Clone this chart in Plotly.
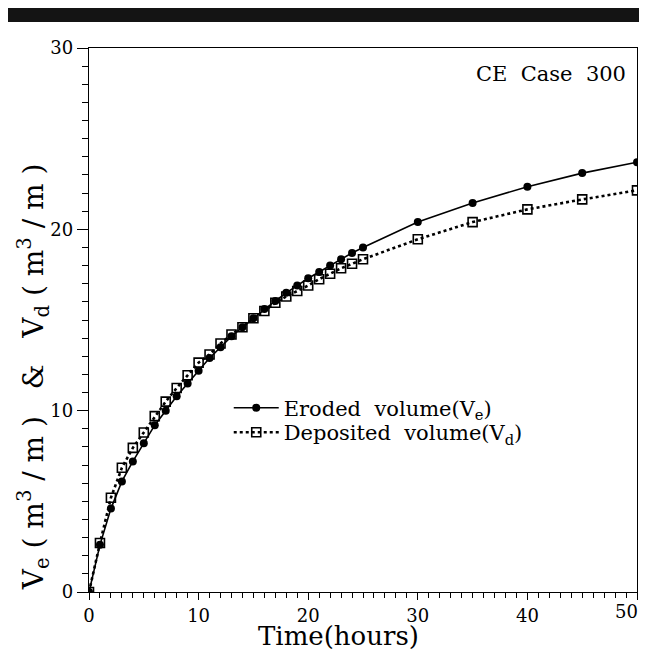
import plotly.graph_objects as go

time_eroded = [0, 1, 2, 3, 4, 5, 6, 7, 8, 9, 10, 11, 12, 13, 14, 15, 16, 17, 18, 19, 20,
               21, 22, 23, 24, 25, 30, 35, 40, 45, 50]
vol_eroded = [0, 2.6, 4.6, 6.1, 7.2, 8.2, 9.2, 10.0, 10.8, 11.5, 12.2, 12.9, 13.5, 14.1,
              14.6, 15.1, 15.6, 16.05, 16.5, 16.9, 17.3, 17.65, 18.0, 18.35, 18.7, 19.0,
              20.4, 21.45, 22.35, 23.1, 23.7]
time_deposited = [0, 1, 2, 3, 4, 5, 6, 7, 8, 9, 10, 11, 12, 13, 14, 15, 16, 17, 18, 19, 20,
                  21, 22, 23, 24, 25, 30, 35, 40, 45, 50]
vol_deposited = [0, 2.7, 5.2, 6.85, 7.95, 8.8, 9.7, 10.5, 11.25, 11.95, 12.65, 13.1, 13.7,
                 14.2, 14.6, 15.1, 15.5, 15.95, 16.3, 16.6, 16.9, 17.25, 17.55, 17.85, 18.1,
                 18.35, 19.45, 20.4, 21.1, 21.65, 22.15]

x_ticks = [0, 10, 20, 30, 40, 50]
x_tick_labels = ["0", "10", "20", "30", "40", "50"]
y_ticks = [0, 10, 20, 30]
y_tick_labels = ["0", "10", "20", "30"]

serif = "DejaVu Serif"

fig = go.Figure()
fig.add_trace(go.Scatter(
    x=time_eroded, y=vol_eroded, mode="lines+markers",
    name="Eroded  volume(V<sub>e</sub>)", legend="legend",
    line=dict(color="black", width=1.6),
    marker=dict(symbol="circle", size=8, color="black"),
))
fig.add_trace(go.Scatter(
    x=time_deposited, y=vol_deposited, mode="lines+markers",
    name="Deposited  volume(V<sub>d</sub>)", legend="legend2",
    line=dict(color="black", width=2.6, dash="dot"),
    marker=dict(symbol="square-open", size=9, color="black", line=dict(width=1.6)),
))

legend_style = dict(xanchor="left", yanchor="middle", bgcolor="rgba(0,0,0,0)",
                    font=dict(family=serif, size=21, color="black"), itemwidth=45)

# the last x tick label sits at the very edge; it is drawn right-aligned at its tick
edge_label = dict(text=x_tick_labels[-1], xref="x", yref="paper", x=x_ticks[-1], y=0,
                  xanchor="right", yanchor="top", xshift=3, yshift=-7, showarrow=False,
                  font=dict(family=serif, size=18, color="black"))

# page body has an 8px margin, so the figure is drawn 8px smaller and offset
fig.update_layout(
    width=639, height=645,
    margin=dict(l=81, r=10, t=40, b=61, autoexpand=False),
    paper_bgcolor="white", plot_bgcolor="white",
    showlegend=True,
    legend=dict(x=0.255, y=0.338, **legend_style),
    legend2=dict(x=0.255, y=0.293, **legend_style),
    shapes=[dict(type="rect", xref="paper", yref="paper",
                 x0=-0.155, x1=1.011, y0=1.048, y1=1.079,
                 fillcolor="#141414", line=dict(width=0))],
    annotations=[
        dict(text="CE  Case  300", xref="paper", yref="paper",
             x=0.983, y=0.978, xanchor="right", yanchor="top", showarrow=False,
             font=dict(family=serif, size=21, color="black")),
        dict(text="Time(hours)", xref="paper", yref="paper",
             x=0.456, y=-0.0815, xanchor="center", yanchor="middle", showarrow=False,
             font=dict(family=serif, size=26, color="black")),
        dict(text="V<sub>e</sub> ( m<sup>3</sup> / m )   &   V<sub>d</sub> ( m<sup>3</sup> / m )",
             xref="paper", yref="paper", textangle=-90,
             x=-0.102, y=0.395, xanchor="center", yanchor="middle", showarrow=False,
             font=dict(family=serif, size=28, color="black")),
        edge_label,
    ],
)

fig.update_xaxes(
    range=[0, 50], tickvals=x_ticks, ticktext=x_tick_labels[:-1] + [""],
    showgrid=False, zeroline=False, showline=True, mirror=True,
    linecolor="black", linewidth=1.3, automargin=False, ticklabeloverflow="allow",
    ticks="outside", ticklen=7, tickwidth=1.3, tickcolor="black",
    minor=dict(dtick=1, ticks="outside", ticklen=5, tickwidth=1.2, tickcolor="black"),
    tickfont=dict(family=serif, size=18, color="black"),
)
fig.update_yaxes(
    range=[0, 30], tickvals=y_ticks, ticktext=y_tick_labels,
    showgrid=False, zeroline=False, showline=True, mirror=True,
    linecolor="black", linewidth=1.3, automargin=False, ticklabeloverflow="allow",
    ticks="outside", ticklen=11, tickwidth=1.3, tickcolor="black",
    minor=dict(dtick=1, ticks="outside", ticklen=6, tickwidth=1.2, tickcolor="black"),
    tickfont=dict(family=serif, size=18, color="black"),
)

fig.write_html("out.html")
